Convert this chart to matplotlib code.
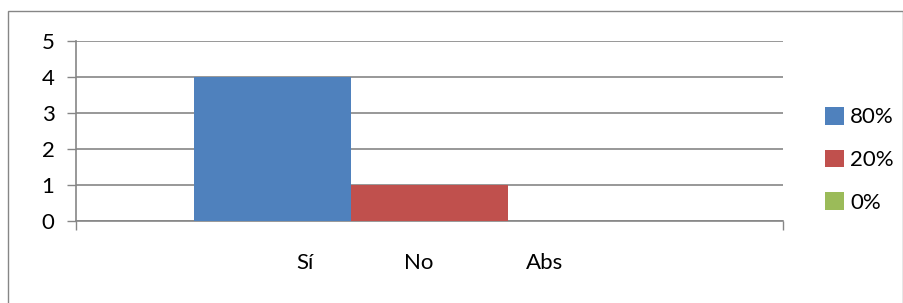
import matplotlib.pyplot as plt
from matplotlib.patches import Patch, Rectangle

plt.rcParams['font.family'] = ['Lato', 'DejaVu Sans']

series = ['80%', '20%', '0%']
values = [4, 1, 0]
colors = ['#4F81BD', '#C0504D', '#9BBB59']
cat_labels = ['Sí', 'No', 'Abs']
cat_label_pos = [-0.79, -0.07, 0.73]
yticks = [0, 1, 2, 3, 4, 5]

grey = '#868686'
fs = 16

fig = plt.figure(figsize=(9.04, 3.03), dpi=100)
ax = fig.add_axes([0.0841, 0.2706, 0.7821, 0.594])

pos = [-1, 0, 1]
for p, v, c in zip(pos, values, colors):
    ax.bar(p, v, width=1.0, color=c, zorder=3)

ax.set_xlim(-2.25, 2.25)
ax.set_ylim(0, 5)
ax.set_yticks(yticks)
ax.yaxis.grid(True, color=grey, lw=1.2, zorder=0)
ax.tick_params(axis='y', length=6.5, width=1, color=grey, pad=9, labelsize=fs)

ax.set_xticks(cat_label_pos)
ax.set_xticklabels(cat_labels, fontsize=fs)
ax.set_xticks([-2.25, 2.25], minor=True)
ax.tick_params(axis='x', which='major', length=0, pad=23)
ax.tick_params(axis='x', which='minor', length=6.5, width=1, color=grey)

for s in ['top', 'right']:
    ax.spines[s].set_visible(False)
for s in ['left', 'bottom']:
    ax.spines[s].set_color(grey)
    ax.spines[s].set_linewidth(1.2)

handles = [Patch(facecolor=c, edgecolor='none') for c in colors]
fig.legend(handles, series, loc='center left', bbox_to_anchor=(0.9, 0.472),
           frameon=False, borderpad=0, handlelength=0.85, handleheight=0.85,
           handletextpad=0.3, labelspacing=1.0, fontsize=fs)

# outer chart border
fig.patches.append(Rectangle((0.0088, -0.02), 0.99, 0.9837, transform=fig.transFigure,
                             fill=False, edgecolor=grey, lw=1))

fig.savefig('out.png', dpi=100)
